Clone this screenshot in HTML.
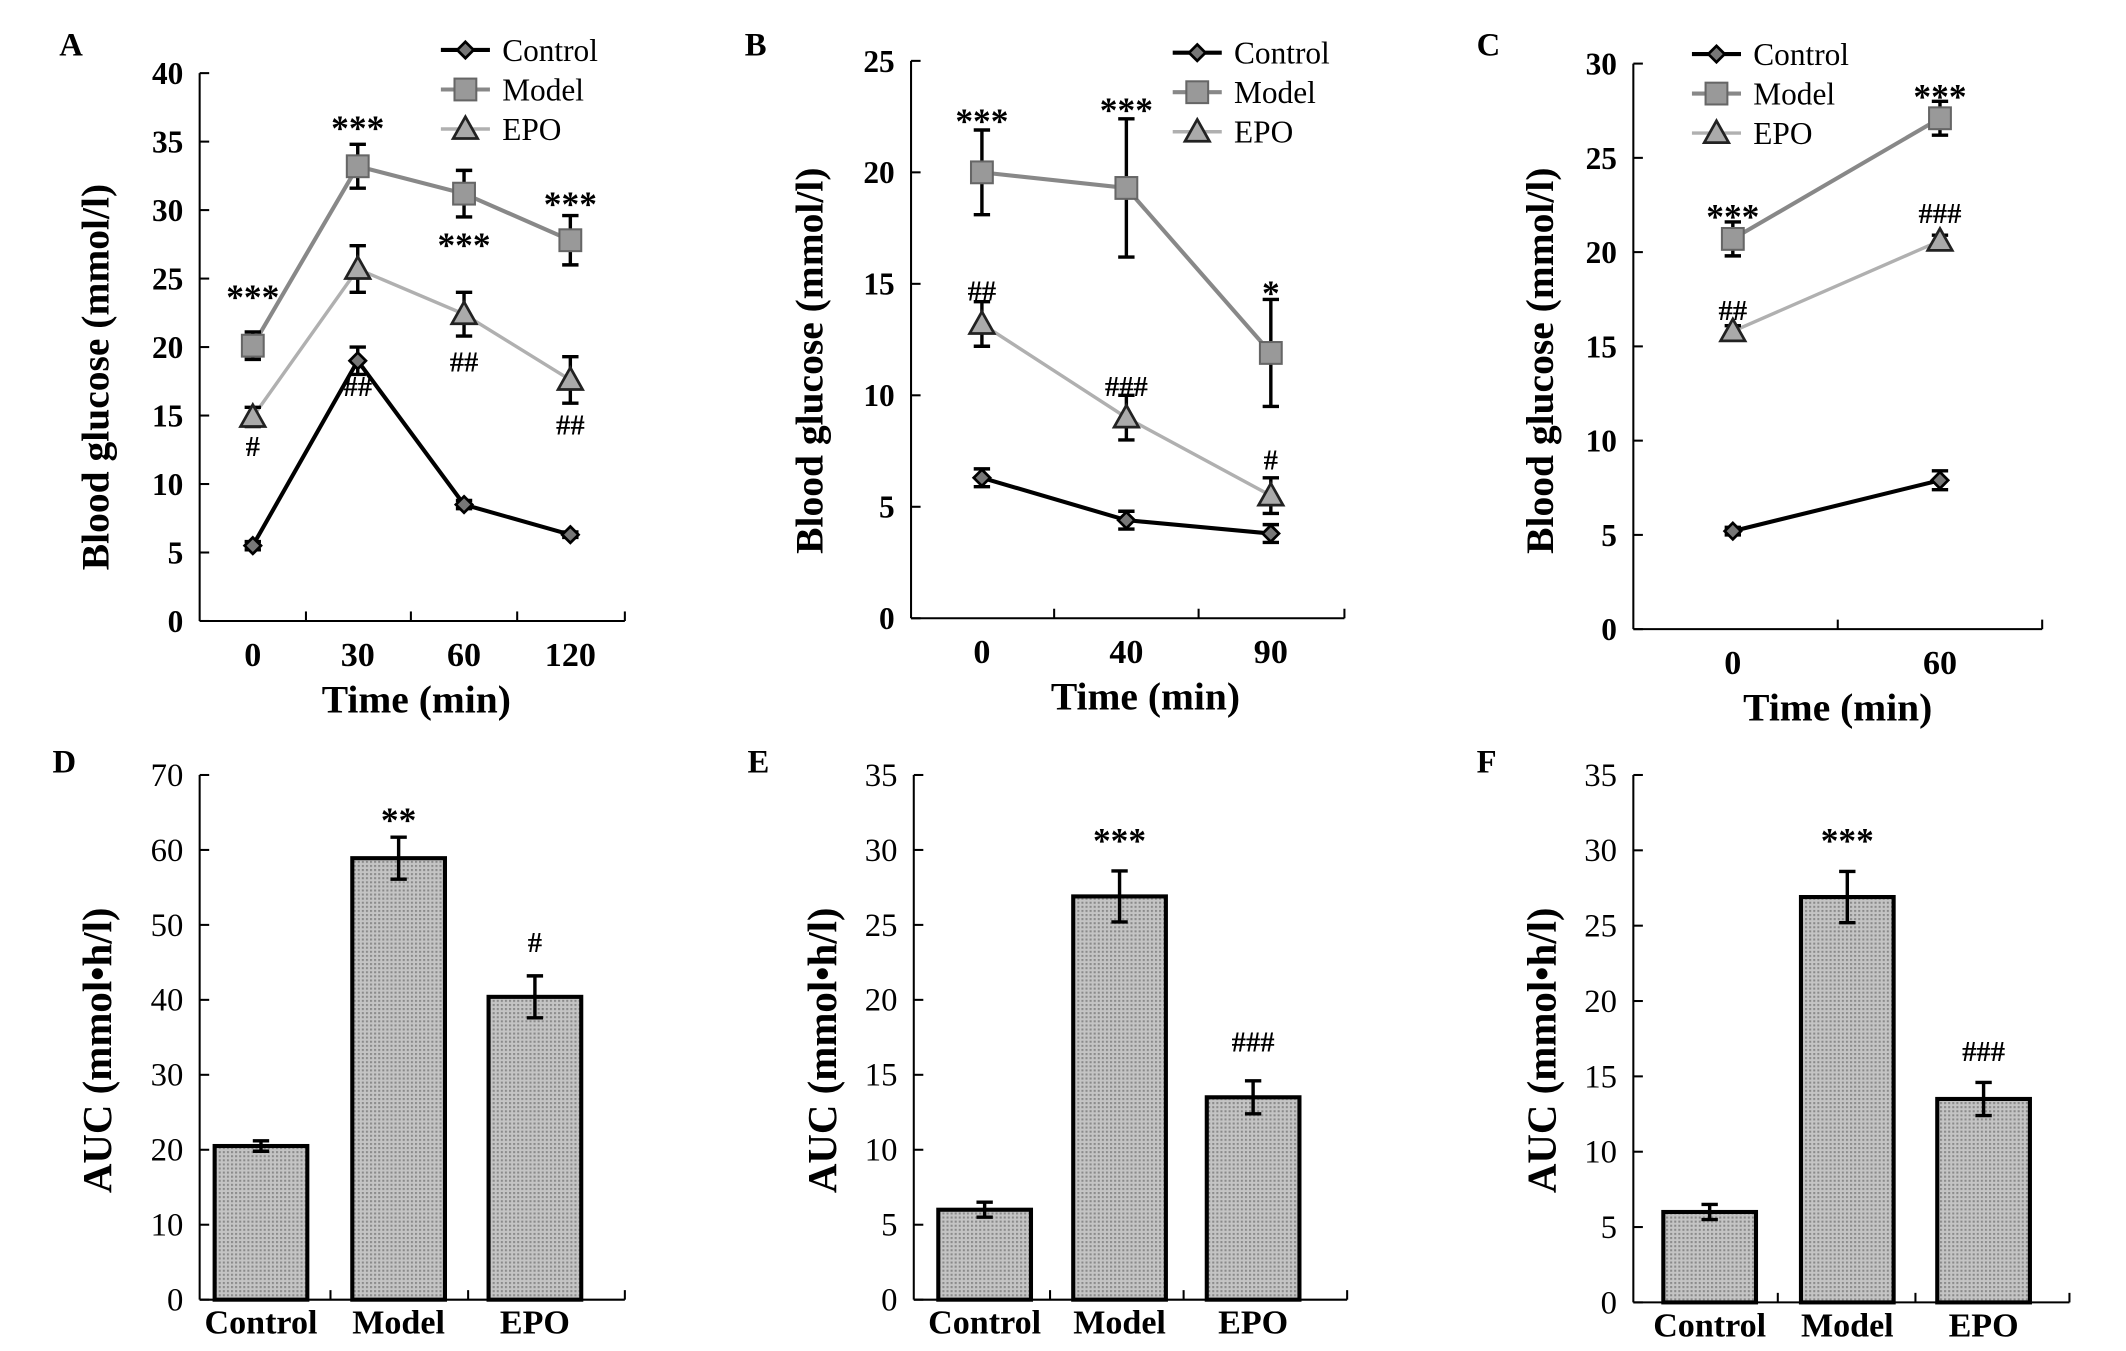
<!DOCTYPE html>
<html><head><meta charset="utf-8"><style>
html,body{margin:0;padding:0;background:#fff;}
svg{display:block;font-family:"Liberation Serif",serif;}
</style></head><body>
<svg id="fig" width="2126" height="1351" viewBox="1.5 1.5 1560 991" xmlns="http://www.w3.org/2000/svg"></svg>
<script>
// ---- data ----
const catsA = ["0","30","60","120"];
const ctrlA = [5.5,19.0,8.5,6.3], ctrlAe=[0.3,1.0,0.3,0.2];
const modA = [20.1,33.2,31.2,27.8], modAe=[1.0,1.6,1.7,1.8];
const epoA = [14.9,25.7,22.4,17.6], epoAe=[0.7,1.7,1.6,1.7];
const ticksA = [0,5,10,15,20,25,30,35,40];
const catsB = ["0","40","90"];
const ctrlB=[6.3,4.4,3.8], ctrlBe=[0.4,0.4,0.4];
const modB=[20.0,19.3,11.9], modBe=[1.9,3.1,2.4];
const epoB=[13.2,9.0,5.5], epoBe=[1.0,1.0,0.8];
const ticksB=[0,5,10,15,20,25];
const catsC=["0","60"];
const ctrlC=[5.2,7.9], ctrlCe=[0.2,0.5];
const modC=[20.7,27.1], modCe=[0.9,0.9];
const epoC=[15.8,20.6], epoCe=[0.3,0.3];
const ticksC=[0,5,10,15,20,25,30];
const barCats=["Control","Model","EPO"];
const aucD=[20.5,58.9,40.4], aucDe=[0.7,2.8,2.8];
const ticksD=[0,10,20,30,40,50,60,70];
const aucE=[6.0,26.9,13.5], aucEe=[0.5,1.7,1.1];
const ticksE=[0,5,10,15,20,25,30,35];
const aucF=[6.0,26.9,13.5], aucFe=[0.5,1.7,1.1];
const ticksF=[0,5,10,15,20,25,30,35];

const NS="http://www.w3.org/2000/svg";
const svg=document.getElementById('fig');
function el(tag,attrs,parent,text){const e=document.createElementNS(NS,tag);for(const k in attrs)e.setAttribute(k,attrs[k]);if(text!==undefined)e.textContent=text;(parent||svg).appendChild(e);return e;}

const defs=el('defs',{});
const pat=el('pattern',{id:'dots',width:3,height:3,patternUnits:'userSpaceOnUse'},defs);
el('rect',{width:3,height:3,fill:'#c4c4c4'},pat);
el('rect',{width:1.5,height:1.5,fill:'#8a8a8a'},pat);

function axes(g,p){
  const ys=v=>p.y0-(v-p.min)/(p.max-p.min)*(p.y0-p.yTop);
  el('line',{x1:p.x0,y1:p.yTop,x2:p.x0,y2:p.y0,stroke:'#000','stroke-width':1.5},g);
  el('line',{x1:p.x0,y1:p.y0,x2:p.x1,y2:p.y0,stroke:'#000','stroke-width':1.5},g);
  p.ticks.forEach(t=>{
    el('line',{x1:p.x0,y1:ys(t),x2:p.x0+7,y2:ys(t),stroke:'#000','stroke-width':1.5},g);
    const tl=el('text',{x:p.x0-12,y:ys(t)+8,'text-anchor':'end','font-size':p.tfs||23,'font-weight':p.tbold?'bold':'normal'},g,String(t));
    
    
  });
  p.xt.forEach(x=>el('line',{x1:x,y1:p.y0,x2:x,y2:p.y0-7,stroke:'#000','stroke-width':1.5},g));
  const yt=el('text',{transform:`translate(${p.ylx},${p.yly}) rotate(-90)`,'text-anchor':'middle','font-size':p.ytfs,'font-weight':'bold'},g,p.ytitle);
  
  
  const pl=el('text',{x:p.lx,y:p.ly,'font-size':24,'font-weight':'bold'},g,p.label);
  
  
  return ys;
}
function marker(g,type,x,y){
  if(type==='c') el('path',{d:`M${x} ${y-6}L${x+6} ${y}L${x} ${y+6}L${x-6} ${y}Z`,fill:'#777',stroke:'#000','stroke-width':2},g);
  else if(type==='m') el('rect',{x:x-8,y:y-8,width:16,height:16,fill:'#999',stroke:'#666','stroke-width':1.5},g);
  else el('path',{d:`M${x} ${y-9}L${x+9} ${y+7}L${x-9} ${y+7}Z`,fill:'#aaa',stroke:'#222','stroke-width':2},g);
}
const sty={c:{stroke:'#000',w:3},m:{stroke:'#888',w:3},e:{stroke:'#b0b0b0',w:2.5}};
function series(g,name,type,xs,vals,errs,ys){
  const sg=el('g',{},g);
  
  
  el('polyline',{points:vals.map((v,i)=>xs[i]+','+ys(v)).join(' '),fill:'none',stroke:sty[type].stroke,'stroke-width':sty[type].w},sg);
  vals.forEach((v,i)=>{
    const x=xs[i],a=ys(v+errs[i]),b=ys(v-errs[i]);
    el('path',{d:`M${x} ${a}V${b}M${x-6} ${a}H${x+6}M${x-6} ${b}H${x+6}`,stroke:'#000','stroke-width':2.5,fill:'none'},sg);
    marker(sg,type,x,ys(v));
  });
}
function legend(g,x,y){
  [['Control','c'],['Model','m'],['EPO','e']].forEach((d,i)=>{
    const lg=el('g',{},g);
    
    
    const yy=y+i*29;
    el('line',{x1:x,y1:yy,x2:x+36,y2:yy,stroke:sty[d[1]].stroke,'stroke-width':sty[d[1]].w},lg);
    marker(lg,d[1],x+18,yy);
    el('text',{x:x+45,y:yy+8,'font-size':23},lg,d[0]);
  });
}
function ann(g,x,y,t){const a=el('text',{x:x,y:y,'text-anchor':'middle','font-size':t.indexOf('*')>=0?26:21,'font-weight':'bold'},g,t);
  }
function xcats(g,xs,cats,y0){cats.forEach((c,i)=>{const t=el('text',{x:xs[i],y:y0+33,'text-anchor':'middle','font-size':25,'font-weight':'bold'},g,c);
  });}
function xtitle(g,x,y){const t=el('text',{x:x,y:y,'text-anchor':'middle','font-size':29,'font-weight':'bold'},g,'Time (min)');
  }

function linePanel(name,p,cats,xs,C,Ce,M,Me,E,Ee,annots,leg,xtx){
  const g=el('g',{});
  
  
  const ys=axes(g,p);
  series(g,'control','c',xs,C,Ce,ys);
  series(g,'model','m',xs,M,Me,ys);
  series(g,'epo','e',xs,E,Ee,ys);
  xcats(g,xs,cats,p.y0);
  xtitle(g,xtx,p.y0+67);
  legend(g,leg[0],leg[1]);
  annots.forEach(a=>ann(g,a[0],a[1],a[2]));
}
function barPanel(name,p,vals,errs,xs,annots){
  const g=el('g',{});
  
  
  const ys=axes(g,p);
  vals.forEach((v,i)=>{
    const b=el('rect',{x:xs[i]-34,y:ys(v),width:68,height:p.y0-ys(v),fill:'url(#dots)',stroke:'#000','stroke-width':3},g);
    
    
    const x=xs[i],a=ys(v+errs[i]),c=ys(v-errs[i]);
    el('path',{d:`M${x} ${a}V${c}M${x-6} ${a}H${x+6}M${x-6} ${c}H${x+6}`,stroke:'#000','stroke-width':2.5,fill:'none'},g);
  });
  xcats(g,xs,barCats,p.y0-8);
  annots.forEach(a=>ann(g,a[0],a[1],a[2]));
}

linePanel('panel-a',{x0:148,x1:460,y0:457,yTop:55,min:0,max:40,ticks:ticksA,tbold:true,xt:[226,303,381,460],ytitle:'Blood glucose (mmol/l)',ytfs:29,ylx:81,yly:278,label:'A',lx:45,ly:42},
  catsA,[187,264,342,420],ctrlA,ctrlAe,modA,modAe,epoA,epoAe,
  [[187,228,'***'],[187,336,'#'],[264,104,'***'],[264,292,'##'],[342,190,'***'],[342,274,'##'],[420,160,'***'],[420,320,'##']],[325,38],307);
linePanel('panel-b',{x0:670,x1:988,y0:455,yTop:46,min:0,max:25,ticks:ticksB,tbold:true,xt:[775,881,988],ytitle:'Blood glucose (mmol/l)',ytfs:29,ylx:605,yly:266,label:'B',lx:548,ly:42},
  catsB,[722,828,934],ctrlB,ctrlBe,modB,modBe,epoB,epoBe,
  [[722,99,'***'],[722,222,'##'],[828,91,'***'],[828,292,'###'],[934,225,'*'],[934,346,'#']],[862,40],842);
linePanel('panel-c',{x0:1200,x1:1500,y0:463,yTop:48,min:0,max:30,ticks:ticksC,tbold:true,xt:[1350,1500],ytitle:'Blood glucose (mmol/l)',ytfs:29,ylx:1141,yly:266,label:'C',lx:1085,ly:42},
  catsC,[1273,1425],ctrlC,ctrlCe,modC,modCe,epoC,epoCe,
  [[1273,169,'***'],[1273,236,'##'],[1425,81,'***'],[1425,165,'###']],[1243,41],1350);
barPanel('panel-d',{x0:148,x1:460,y0:955,yTop:570,min:0,max:70,ticks:ticksD,tbold:false,tfs:24,xt:[244,345,460],ytitle:'AUC (mmol\u2022h/l)',ytfs:30,ylx:83,yly:772,label:'D',lx:40,ly:568},
  aucD,aucDe,[193,294,394],[[294,612,'**'],[394,700,'#']]);
barPanel('panel-e',{x0:672,x1:990,y0:955,yTop:570,min:0,max:35,ticks:ticksE,tbold:false,tfs:24,xt:[772,870,990],ytitle:'AUC (mmol\u2022h/l)',ytfs:30,ylx:615,yly:772,label:'E',lx:550,ly:568},
  aucE,aucEe,[724,823,921],[[823,627,'***'],[921,773,'###']]);
barPanel('panel-f',{x0:1200,x1:1520,y0:957,yTop:570,min:0,max:35,ticks:ticksF,tbold:false,tfs:24,xt:[1306,1407,1520],ytitle:'AUC (mmol\u2022h/l)',ytfs:30,ylx:1143,yly:772,label:'F',lx:1085,ly:568},
  aucF,aucFe,[1256,1357,1457],[[1357,627,'***'],[1457,780,'###']]);
</script>
</body></html>
